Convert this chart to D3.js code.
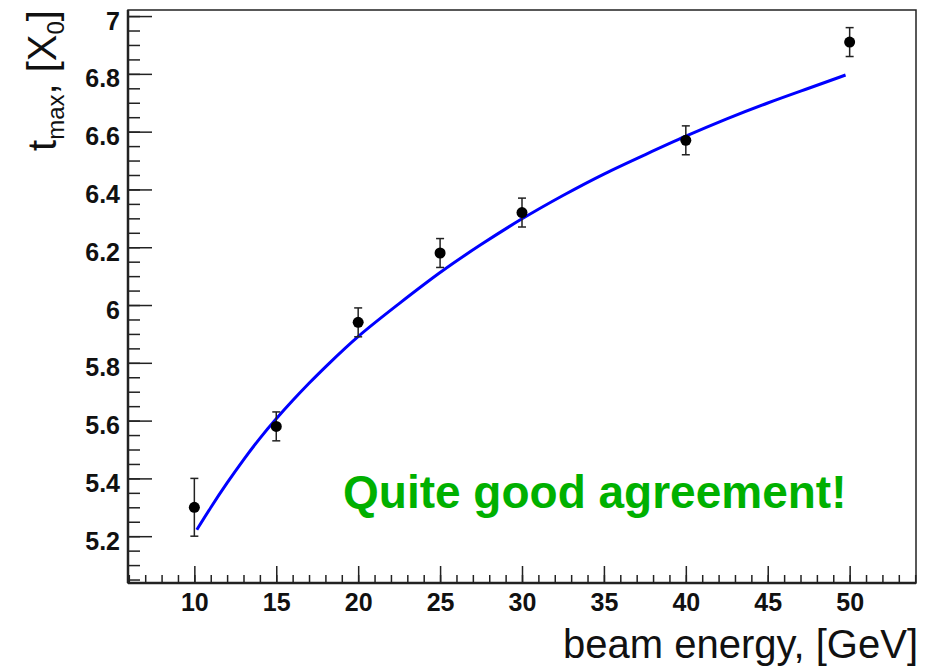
<!DOCTYPE html>
<html>
<head>
<meta charset="utf-8">
<script src="https://cdn.jsdelivr.net/npm/d3@7"></script>
<style>
  body { margin: 0; background: #fff; }
  text { font-family: "Liberation Sans", Arial, sans-serif; }
</style>
</head>
<body>
<script>
// measured points: beam energy [GeV], t_max [X0] and its error
var energies = [10, 15, 20, 25, 30, 40, 50];
var tmaxValues = [5.30, 5.58, 5.94, 6.18, 6.32, 6.57, 6.91];
var tmaxErrors = [0.10, 0.05, 0.05, 0.05, 0.05, 0.05, 0.05];

// simulation curve
var curveEnergies = [10.15, 11, 12, 13, 14, 15, 16, 17, 18, 20, 22.5, 25, 27.5, 30, 32.5, 35, 37.5, 40, 42.5, 45, 47.5, 49.75];
var curveValues = [5.222, 5.30, 5.385, 5.465, 5.54, 5.607, 5.67, 5.73, 5.786, 5.895, 6.005, 6.115, 6.21, 6.30, 6.38, 6.455, 6.52, 6.585, 6.645, 6.70, 6.75, 6.796];

var xTickValues = [10, 15, 20, 25, 30, 35, 40, 45, 50];
var yTickValues = [5.2, 5.4, 5.6, 5.8, 6, 6.2, 6.4, 6.6, 6.8, 7];

var w = 939, h = 668;
var plotLeft = 128, plotRight = 916, plotTop = 10, plotBottom = 583;

var xScale = d3.scaleLinear().domain([5.95, 54.05]).range([plotLeft, plotRight]);
var yScale = d3.scaleLinear().domain([5.038, 7.021]).range([plotBottom, plotTop]);

var svg = d3.select("body").append("svg")
    .attr("width", w)
    .attr("height", h);

// frame
svg.append("rect")
    .attr("x", plotLeft).attr("y", plotTop)
    .attr("width", plotRight - plotLeft).attr("height", plotBottom - plotTop)
    .attr("fill", "none")
    .attr("stroke", "#222")
    .attr("stroke-width", 1.5);

// minor ticks (every 1 GeV / every 0.05 X0)
var xMinor = d3.range(6, 54.5, 1);
var yMinor = d3.range(5.05, 7.01, 0.05);

svg.append("g")
    .attr("transform", "translate(0," + plotBottom + ")")
    .call(d3.axisBottom(xScale).tickValues(xMinor).tickSize(-8).tickFormat(""))
    .call(function(g) { g.select(".domain").remove(); });

svg.append("g")
    .attr("transform", "translate(" + plotLeft + ",0)")
    .call(d3.axisLeft(yScale).tickValues(yMinor).tickSize(-12).tickFormat(""))
    .call(function(g) { g.select(".domain").remove(); });

// major ticks with labels
var xAxis = svg.append("g")
    .attr("transform", "translate(0," + plotBottom + ")")
    .call(d3.axisBottom(xScale).tickValues(xTickValues).tickSize(-17).tickFormat(d3.format("d")));
xAxis.select(".domain").remove();

var yAxis = svg.append("g")
    .attr("transform", "translate(" + plotLeft + ",0)")
    .call(d3.axisLeft(yScale).tickValues(yTickValues).tickSize(-24)
        .tickFormat(function(d) { return String(+d.toFixed(1)); }));
yAxis.select(".domain").remove();

svg.selectAll(".tick line").attr("stroke", "#222").attr("stroke-width", 1.5);
xAxis.selectAll("text")
    .attr("fill", "#111").style("font-size", "25px").attr("font-weight", "bold")
    .attr("y", 28).attr("dy", 0);
yAxis.selectAll("text")
    .attr("fill", "#111").style("font-size", "25px").attr("font-weight", "bold")
    .attr("x", -8).attr("dy", 13);

// axis lines (left and bottom drawn a bit heavier)
svg.append("line")
    .attr("x1", plotLeft).attr("x2", plotLeft).attr("y1", plotTop).attr("y2", plotBottom)
    .attr("stroke", "#222").attr("stroke-width", 2.5);
svg.append("line")
    .attr("x1", plotLeft).attr("x2", plotRight).attr("y1", plotBottom).attr("y2", plotBottom)
    .attr("stroke", "#222").attr("stroke-width", 2.5);

// simulation curve
var line = d3.line()
    .x(function(d) { return xScale(d[0]); })
    .y(function(d) { return yScale(d[1]); })
    .curve(d3.curveBasis);

svg.append("path")
    .datum(d3.zip(curveEnergies, curveValues))
    .attr("d", line)
    .attr("fill", "none")
    .attr("stroke", "#0000ff")
    .attr("stroke-width", 3);

// data points with error bars
var points = d3.zip(energies, tmaxValues, tmaxErrors);

var bars = svg.append("g").attr("stroke", "#222").attr("stroke-width", 1.5);
bars.selectAll(".err")
    .data(points).enter().append("line")
    .attr("x1", function(d) { return xScale(d[0]); })
    .attr("x2", function(d) { return xScale(d[0]); })
    .attr("y1", function(d) { return yScale(d[1] - d[2]); })
    .attr("y2", function(d) { return yScale(d[1] + d[2]); });
bars.selectAll(".capTop")
    .data(points).enter().append("line")
    .attr("x1", function(d) { return xScale(d[0]) - 4; })
    .attr("x2", function(d) { return xScale(d[0]) + 4; })
    .attr("y1", function(d) { return yScale(d[1] + d[2]); })
    .attr("y2", function(d) { return yScale(d[1] + d[2]); });
bars.selectAll(".capBottom")
    .data(points).enter().append("line")
    .attr("x1", function(d) { return xScale(d[0]) - 4; })
    .attr("x2", function(d) { return xScale(d[0]) + 4; })
    .attr("y1", function(d) { return yScale(d[1] - d[2]); })
    .attr("y2", function(d) { return yScale(d[1] - d[2]); });

svg.selectAll("circle")
    .data(points).enter().append("circle")
    .attr("cx", function(d) { return xScale(d[0]); })
    .attr("cy", function(d) { return yScale(d[1]); })
    .attr("r", 5.5)
    .attr("fill", "#000");

// axis titles
svg.append("text")
    .attr("x", 918).attr("y", 658)
    .attr("text-anchor", "end")
    .style("font-size", "40px")
    .attr("fill", "#111")
    .text("beam energy, [GeV]");

var yTitle = svg.append("text")
    .attr("transform", "translate(56,10) rotate(-90)")
    .attr("text-anchor", "end")
    .style("font-size", "40px")
    .attr("fill", "#111");
yTitle.append("tspan").text("t");
yTitle.append("tspan").style("font-size", "24px").attr("dy", 8).text("max");
yTitle.append("tspan").attr("dy", -8).text(", [X");
yTitle.append("tspan").style("font-size", "24px").attr("dy", 8).text("0");
yTitle.append("tspan").attr("dy", -8).text("]");

// annotation
svg.append("text")
    .attr("x", 343).attr("y", 508)
    .style("font-size", "46px")
    .attr("font-weight", "bold")
    .attr("fill", "#00b000")
    .text("Quite good agreement!");
</script>
</body>
</html>
